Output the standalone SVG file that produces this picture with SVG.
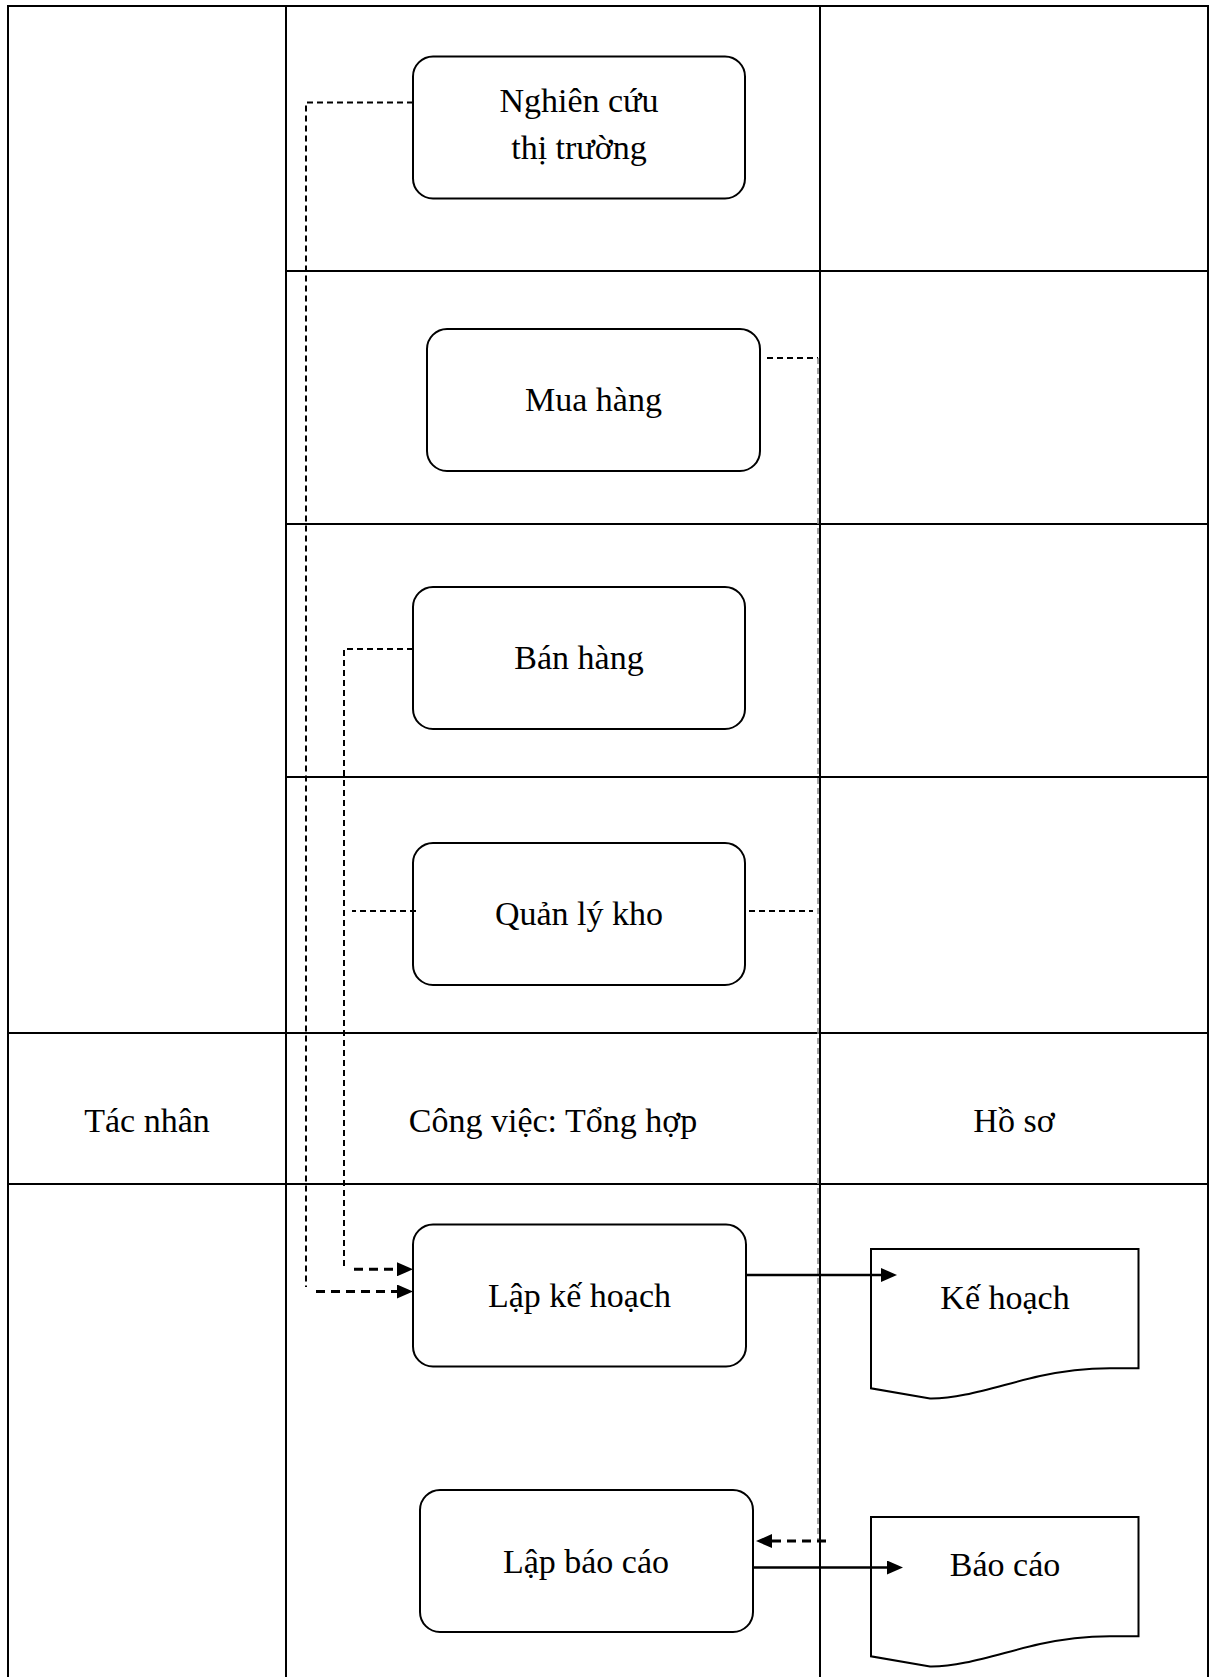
<svg xmlns="http://www.w3.org/2000/svg" width="1211" height="1677" viewBox="0 0 1211 1677">
  <style>
    .grid { fill: none; stroke: #000; stroke-width: 2; }
    .box { fill: #fff; stroke: #000; stroke-width: 2; }
    .doc { fill: #fff; stroke: #000; stroke-width: 2; }
    .lbl { font-family: "Liberation Serif", "Times New Roman", serif; font-size: 34px; fill: #000; text-anchor: middle; }
    .thin { fill: none; stroke: #000; stroke-width: 2; stroke-dasharray: 6 4; }
    .faint { fill: none; stroke: #888; stroke-width: 1.5; stroke-dasharray: 6 4; }
    .thick { fill: none; stroke: #000; stroke-width: 3; stroke-dasharray: 9 6; }
    .solid { fill: none; stroke: #000; stroke-width: 2.5; }
  </style>
  <defs>
    <marker id="arrow" markerUnits="userSpaceOnUse" markerWidth="16" markerHeight="14" viewBox="0 0 16 14" refX="2" refY="7" orient="auto">
      <path d="M0,0 L16,7 L0,14 Z" fill="#000"/>
    </marker>
  </defs>

  <rect width="1211" height="1677" fill="#fff"/>

  <!-- table frame -->
  <g id="table" class="grid">
    <path d="M8,1677 V6 H1208 V1677"/>
    <path d="M286,6 V1677"/>
    <path d="M820,6 V1677"/>
    <path d="M286,271 H1208"/>
    <path d="M286,524 H1208"/>
    <path d="M286,777 H1208"/>
    <path d="M8,1033 H1208"/>
    <path d="M8,1184 H1208"/>
  </g>

  <!-- column headers -->
  <g id="headers">
    <text class="lbl" x="147" y="1132">Tác nhân</text>
    <text class="lbl" x="553" y="1132">Công việc: Tổng hợp</text>
    <text class="lbl" x="1014" y="1132">Hồ sơ</text>
  </g>

  <!-- process nodes -->
  <g id="node-nghien-cuu">
    <rect class="box" x="413" y="56.5" width="332" height="142" rx="20"/>
    <text class="lbl" x="579" y="111.5">Nghiên cứu</text>
    <text class="lbl" x="579" y="158.5">thị trường</text>
  </g>
  <g id="node-mua-hang">
    <rect class="box" x="427" y="329" width="333" height="142" rx="20"/>
    <text class="lbl" x="593.5" y="411">Mua hàng</text>
  </g>
  <g id="node-ban-hang">
    <rect class="box" x="413" y="587" width="332" height="142" rx="20"/>
    <text class="lbl" x="579" y="668.5">Bán hàng</text>
  </g>
  <g id="node-quan-ly-kho">
    <rect class="box" x="413" y="843" width="332" height="142" rx="20"/>
    <text class="lbl" x="579" y="925">Quản lý kho</text>
  </g>
  <g id="node-lap-ke-hoach">
    <rect class="box" x="413" y="1224.5" width="333" height="142" rx="20"/>
    <text class="lbl" x="579.5" y="1306.5">Lập kế hoạch</text>
  </g>
  <g id="node-lap-bao-cao">
    <rect class="box" x="420" y="1490" width="333" height="142" rx="20"/>
    <text class="lbl" x="586" y="1572.5">Lập báo cáo</text>
  </g>

  <!-- document nodes -->
  <g id="doc-ke-hoach">
    <path class="doc" d="M871,1249 H1138.5 V1368.3 H1110 C1090,1368.5 1068,1370 1040,1376 C1000,1385 962,1399 930,1398.5 L871,1388.3 Z"/>
    <text class="lbl" x="1005" y="1309">Kế hoạch</text>
  </g>
  <g id="doc-bao-cao">
    <path class="doc" d="M871,1517 H1138.5 V1636.3 H1110 C1090,1636.5 1068,1638 1040,1644 C1000,1653 962,1667 930,1666.5 L871,1656.3 Z"/>
    <text class="lbl" x="1005" y="1576">Báo cáo</text>
  </g>

  <!-- connectors, drawn on top of the nodes -->
  <g id="connectors">
    <path class="thin" d="M413,102.5 H306 V1287"/>
    <path class="thin" d="M413,649 H344 V1267"/>
    <path class="thin" d="M416,911 H352"/>
    <path class="thin" d="M749,911 H813"/>
    <path class="thin" d="M767,358 H818"/>
    <path class="faint" d="M818,358 V1541"/>
    <path class="thick" d="M316,1291.5 H399" marker-end="url(#arrow)"/>
    <path class="thick" d="M354,1269.3 H399" marker-end="url(#arrow)"/>
    <path class="thick" d="M826,1541 H770" marker-end="url(#arrow)"/>
    <path class="solid" d="M745,1275 H883" marker-end="url(#arrow)"/>
    <path class="solid" d="M753,1567.5 H889" marker-end="url(#arrow)"/>
  </g>
</svg>
